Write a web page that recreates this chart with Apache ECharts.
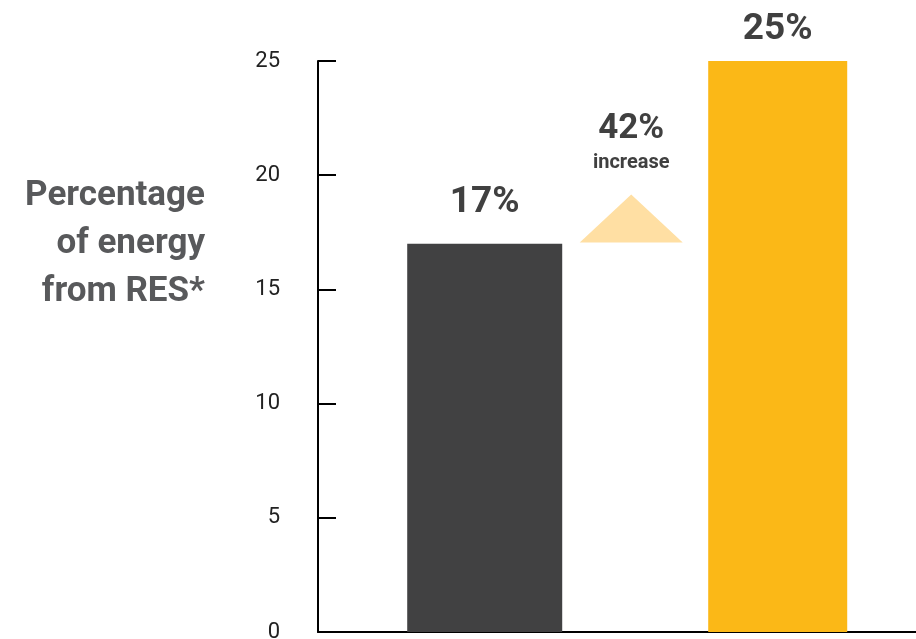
<!DOCTYPE html>
<html>
<head>
<meta charset="utf-8">
<script src="https://cdn.jsdelivr.net/npm/echarts@6/dist/echarts.min.js"></script>
<style>html,body{margin:0;padding:0;background:#fff;}#c{width:916px;height:639px;}</style>
</head>
<body>
<div id="c"></div>
<script>
// Data
const categories = ['Before', 'After'];
const values = [17, 25];
const valueLabels = ['17%', '25%'];
const yTicks = [0, 5, 10, 15, 20, 25];
const increaseText = ['42%', 'increase'];
const increasePoint = [0.5, 18.1];   // between the two bars
const yTitle = ['Percentage', 'of energy', 'from RES*'];

const chart = echarts.init(document.getElementById('c'));
const FONT = 'Roboto';
const xRange = { min: -0.569, max: 1.472 };

const option = {
  animation: false,
  title: {
    text: yTitle.join('\n'), left: 205, top: 172, textAlign: 'right', padding: 0,
    textStyle: { fontFamily: FONT, fontWeight: 'bold', fontSize: 35, lineHeight: 48, color: '#58595b' }
  },
  grid: { left: 318, right: 0, top: 61, bottom: 7, containLabel: false, outerBoundsMode: 'none' },
  xAxis: [
    { type: 'value', min: xRange.min, max: xRange.max, splitLine: { show: false },
      axisLabel: { show: false }, axisTick: { show: false },
      axisLine: { show: true, lineStyle: { color: '#000', width: 2 } } },
    { type: 'value', min: xRange.min, max: xRange.max, show: false }
  ],
  yAxis: {
    type: 'value', min: yTicks[0], max: yTicks[yTicks.length - 1], interval: 5,
    splitLine: { show: false },
    axisLine: { show: true, onZero: false, lineStyle: { color: '#000', width: 2 } },
    axisTick: { show: true, inside: true, length: 18, lineStyle: { color: '#000', width: 2 } },
    axisLabel: { fontFamily: FONT, fontSize: 22, color: '#222', margin: 38 }
  },
  series: [
    {
      type: 'bar', name: categories[0], xAxisIndex: 0, barWidth: 155,
      itemStyle: { color: '#414142' }, z: 3,
      data: [{ value: [0, values[0]],
        label: { show: true, position: 'top', distance: 22, formatter: valueLabels[0],
          fontFamily: FONT, fontWeight: 'bold', fontSize: 37, color: '#404040' } }]
    },
    {
      type: 'bar', name: categories[1], xAxisIndex: 1, barWidth: 139,
      itemStyle: { color: '#fbb817' }, z: 3,
      data: [{ value: [1, values[1]],
        label: { show: true, position: 'top', distance: 13, formatter: valueLabels[1],
          fontFamily: FONT, fontWeight: 'bold', fontSize: 37, color: '#404040' } }]
    },
    {
      type: 'scatter', xAxisIndex: 0, symbol: 'triangle', symbolSize: [103, 48],
      itemStyle: { color: '#ffdfa3', opacity: 1 },
      data: [increasePoint],
      label: {
        show: true, position: 'top', distance: 19,
        formatter: '{a|' + increaseText[0] + '}\n{b|' + increaseText[1] + '}',
        rich: {
          a: { fontFamily: FONT, fontWeight: 'bold', fontSize: 35, lineHeight: 40, color: '#404040', align: 'center' },
          b: { fontFamily: FONT, fontWeight: 'bold', fontSize: 20, lineHeight: 26, color: '#404040', align: 'center' }
        }
      }
    }
  ]
};
chart.setOption(option);
</script>
</body>
</html>
